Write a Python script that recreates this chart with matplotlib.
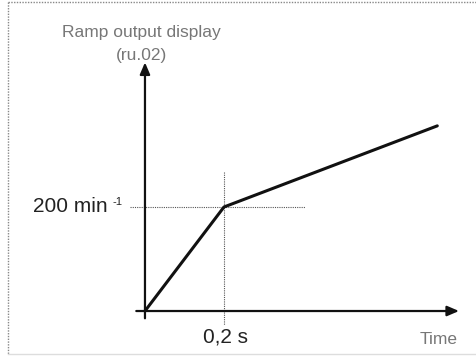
import matplotlib
matplotlib.use("Agg")
import matplotlib.pyplot as plt
from matplotlib.lines import Line2D

plt.rcParams['font.family'] = ['Liberation Sans', 'DejaVu Sans']

# ramp: time (s) vs speed (min-1)
ramp_t = [0.0, 0.2, 0.74]
ramp_n = [0, 200, 356]

t_mark = 0.2
n_mark = 200

fig = plt.figure(figsize=(4.76, 3.56), dpi=100)
ax = fig.add_axes([0, 0, 1, 1])
ax.set_xlim(-0.367, 0.838)
ax.set_ylim(-86.5, 598)
ax.axis("off")

# frame around the picture (dotted, grey)
fig.add_artist(Line2D([8/476, 8/476], [1 - 2/356, 1 - 354/356], color="#888888", lw=1, ls=(0, (1, 1))))
fig.add_artist(Line2D([8/476, 1], [1 - 2/356, 1 - 2/356], color="#888888", lw=1, ls=(0, (1, 1))))
fig.add_artist(Line2D([8/476, 1], [1 - 354/356, 1 - 354/356], color="#dddddd", lw=1))

# guide lines
ax.plot([-0.038, 0.405], [n_mark, n_mark], color="#555555", lw=0.8, ls=(0, (1, 1)))
ax.plot([t_mark, t_mark], [267, -27], color="#555555", lw=0.8, ls=(0, (1, 1)))

# axes with arrows
ax.annotate("", xy=(0.795, 0), xytext=(-0.022, 0),
            arrowprops=dict(arrowstyle="-|>,head_length=0.7,head_width=0.3", color="#111111", lw=1.6, shrinkA=0, shrinkB=0))
ax.annotate("", xy=(0, 478), xytext=(0, -14),
            arrowprops=dict(arrowstyle="-|>,head_length=0.7,head_width=0.3", color="#111111", lw=1.6, shrinkA=0, shrinkB=0))

# ramp line
ax.plot(ramp_t, ramp_n, color="#111111", lw=2.2, solid_capstyle="round")

# labels
ax.text(-0.01, 536, "Ramp output display", ha="center", va="center", fontsize=12.5, color="#777777")
ax.text(-0.01, 492, "(ru.02)", ha="center", va="center", fontsize=12.5, color="#777777")
ax.text(-0.094, n_mark, "200 min", ha="right", va="center", fontsize=15, color="#222222")
ax.text(-0.082, n_mark + 9, "-1", ha="left", va="center", fontsize=8, color="#222222")
ax.text(0.147, -50, "0,2 s", ha="left", va="center", fontsize=15, color="#222222")
ax.text(0.792, -54, "Time", ha="right", va="center", fontsize=12.5, color="#777777")

fig.savefig("out.png", dpi=100)
